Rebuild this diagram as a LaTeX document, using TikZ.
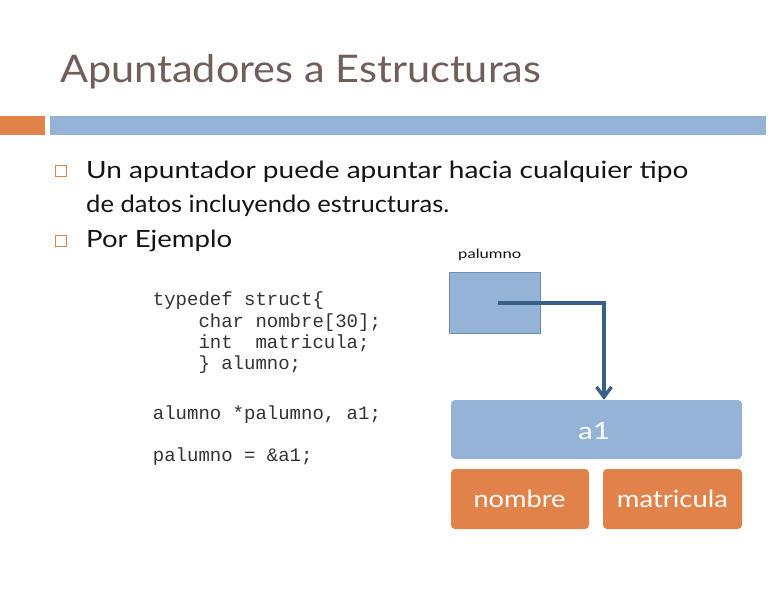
\documentclass[tikz,border=0pt]{standalone}
\usepackage{fontspec}
\setmainfont{Lato}
\newfontfamily\codefont{Liberation Mono}
\usetikzlibrary{arrows.meta}
\definecolor{titlecol}{HTML}{705E58}
\definecolor{orangec}{HTML}{E0824A}
\definecolor{bluec}{HTML}{95B3D7}
\definecolor{blueedge}{HTML}{7090B0}
\definecolor{arrowc}{HTML}{3A5F87}
\definecolor{codec}{HTML}{333333}
\definecolor{textc}{HTML}{141414}
\tikzset{
  bulletbox/.style={draw=orangec, line width=0.9pt, minimum size=11.5pt, inner sep=0pt},
  bodytext/.style={anchor=base west, inner sep=0pt, text=textc},
  codeline/.style={anchor=base west, inner sep=0pt, text=codec, font=\codefont\fontsize{19}{21}\selectfont},
  cellbox/.style={rounded corners=4pt, inner sep=0pt, text=white},
  ptrarrow/.style={color=arrowc, line width=3.4pt, line join=miter, -{Straight Barb[length=10pt,width=15pt]}}
}
\newcommand{\fitbox}[3]{\resizebox{#1}{#2}{\fontsize{24}{28}\selectfont #3}}
\begin{document}
\begin{tikzpicture}[x=1pt,y=-1pt]
\useasboundingbox (0,0) rectangle (768,593);
% title
\node[anchor=base west, inner sep=0pt, text=titlecol] (title) at (60,83)
  {\fitbox{481pt}{28pt}{Apuntadores a Estructuras}};
% bars
\fill[orangec] (0,116) rectangle (44.5,135);
\fill[bluec] (49.5,116) rectangle (766,135);
% bullets
\node[bulletbox] (b1) at (61,171) {};
\node[bulletbox] (b2) at (61,241) {};
\node[bodytext] (l1) at (86,178.5)
  {\fitbox{602pt}{17.5pt}{Un apuntador puede apuntar hacia cualquier tipo}};
\node[bodytext] (l2) at (86,213)
  {\fitbox{363pt}{17.5pt}{de datos incluyendo estructuras.}};
\node[bodytext] (l3) at (86,247.5)
  {\fitbox{146pt}{17.5pt}{Por Ejemplo}};
% code
\node[codeline] (c1) at (152.7,306) {typedef struct\{};
\node[codeline] (c2) at (198.3,327.3) {char nombre[30];};
\node[codeline] (c3) at (198.3,348.7) {int\ \ matricula;};
\node[codeline] (c4) at (198.3,370) {\} alumno;};
\node[codeline] (c5) at (152.7,419.3) {alumno *palumno, a1;};
\node[codeline] (c6) at (152.7,461.7) {palumno = \&a1;};
% diagram
\node[anchor=base west, inner sep=0pt, text=textc] (plabel) at (458,258.3)
  {\fitbox{63pt}{9.5pt}{palumno}};
\node[draw=blueedge, fill=bluec, line width=0.8pt, minimum width=91pt, minimum height=61pt, inner sep=0pt] (ptr) at (494.5,302.5) {};
\node[cellbox, fill=bluec, minimum width=291pt, minimum height=59pt] (a1) at (596.5,429.5) {};
\node[anchor=base, inner sep=0pt, text=white] (a1t) at (594,439) {\fitbox{32pt}{17pt}{a1}};
\node[cellbox, fill=orangec, minimum width=138pt, minimum height=60pt] (nombre) at (520,499) {};
\node[anchor=base west, inner sep=0pt, text=white] (nombret) at (473.3,507.7) {\fitbox{92pt}{17.5pt}{nombre}};
\node[cellbox, fill=orangec, minimum width=139pt, minimum height=60pt] (matr) at (672.5,499) {};
\node[anchor=base west, inner sep=0pt, text=white] (matrt) at (616.7,507.7) {\fitbox{111pt}{17.5pt}{matricula}};
\coordinate (start) at (498,303);
\coordinate (corner) at (604,303);
\draw[ptrarrow] (start) -- (corner) -- (corner |- a1.north);
\end{tikzpicture}
\end{document}
